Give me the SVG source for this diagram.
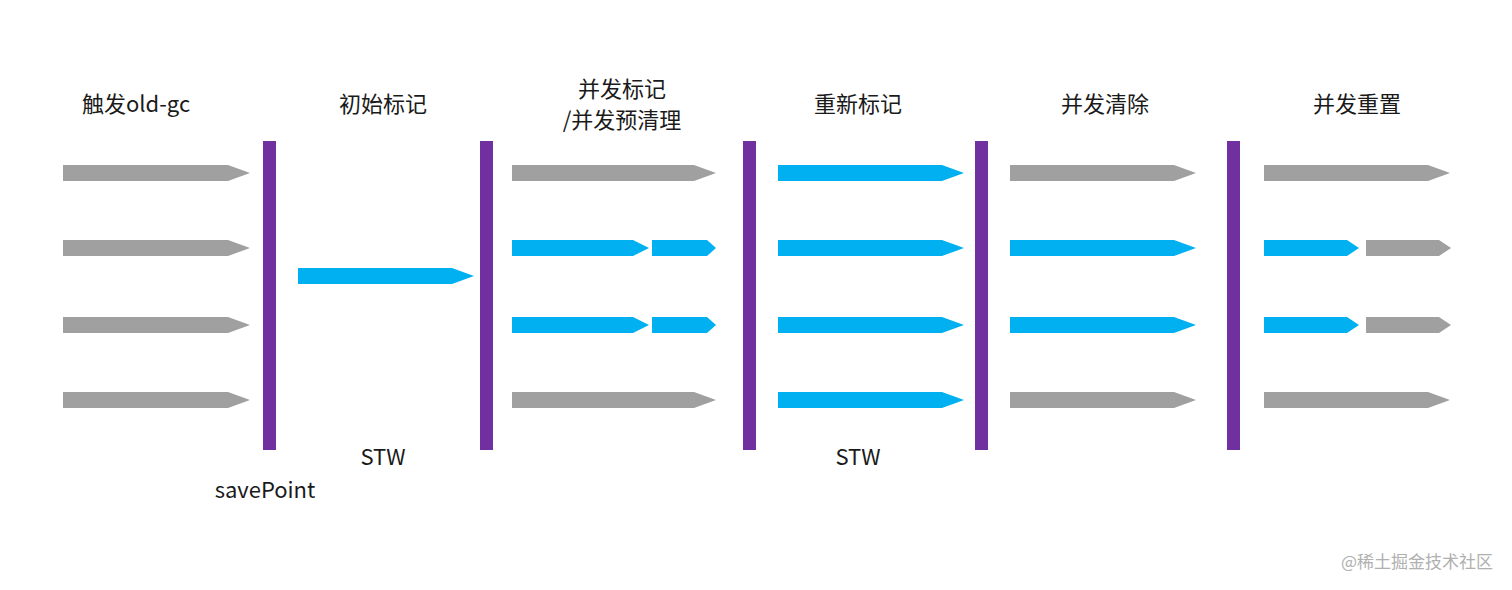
<svg xmlns="http://www.w3.org/2000/svg" width="1512" height="590" viewBox="0 0 1512 590">
<style>
.g{fill:#a0a0a0}
.b{fill:#00b0f0}
.bar{fill:#7030a0}
.t{font-family:"Noto Sans CJK SC","Microsoft YaHei",sans-serif;font-size:22px;fill:#1a1a1a}
.wm{font-family:"Noto Sans CJK SC",sans-serif;font-size:17px;fill:#b0b0b0}
</style>
<rect width="1512" height="590" fill="#ffffff"/>
<g id="bars">
<rect class="bar" x="263" y="141" width="13" height="309"/>
<rect class="bar" x="480" y="141" width="13" height="309"/>
<rect class="bar" x="743" y="141" width="13" height="309"/>
<rect class="bar" x="975" y="141" width="13" height="309"/>
<rect class="bar" x="1227" y="141" width="13" height="309"/>
</g>
<g id="connectors">
<!-- section 1 -->
<polygon class="g" points="63,165 228,165 250,173 228,181 63,181"/>
<polygon class="g" points="63,240 228,240 250,248 228,256 63,256"/>
<polygon class="g" points="63,317 228,317 250,325 228,333 63,333"/>
<polygon class="g" points="63,392 228,392 250,400 228,408 63,408"/>
<!-- section 2 -->
<polygon class="b" points="298,268 452,268 474,276 452,284 298,284"/>
<!-- section 3 -->
<polygon class="g" points="512,165 694,165 716,173 694,181 512,181"/>
<polygon class="b" points="512,240 633,240 649,248 633,256 512,256"/>
<polygon class="b" points="652,240 707,240 716,248 707,256 652,256"/>
<polygon class="b" points="512,317 633,317 649,325 633,333 512,333"/>
<polygon class="b" points="652,317 707,317 716,325 707,333 652,333"/>
<polygon class="g" points="512,392 694,392 716,400 694,408 512,408"/>
<!-- section 4 -->
<polygon class="b" points="778,165 942,165 964,173 942,181 778,181"/>
<polygon class="b" points="778,240 942,240 964,248 942,256 778,256"/>
<polygon class="b" points="778,317 942,317 964,325 942,333 778,333"/>
<polygon class="b" points="778,392 942,392 964,400 942,408 778,408"/>
<!-- section 5 -->
<polygon class="g" points="1010,165 1174,165 1196,173 1174,181 1010,181"/>
<polygon class="b" points="1010,240 1174,240 1196,248 1174,256 1010,256"/>
<polygon class="b" points="1010,317 1174,317 1196,325 1174,333 1010,333"/>
<polygon class="g" points="1010,392 1174,392 1196,400 1174,408 1010,408"/>
<!-- section 6 -->
<polygon class="g" points="1264,165 1428,165 1450,173 1428,181 1264,181"/>
<polygon class="b" points="1264,240 1347,240 1359,248 1347,256 1264,256"/>
<polygon class="g" points="1366,240 1439,240 1451,248 1439,256 1366,256"/>
<polygon class="b" points="1264,317 1347,317 1359,325 1347,333 1264,333"/>
<polygon class="g" points="1366,317 1439,317 1451,325 1439,333 1366,333"/>
<polygon class="g" points="1264,392 1428,392 1450,400 1428,408 1264,408"/>
</g>
<g id="labels">
<text class="t" x="82" y="112">触发old-gc</text>
<text class="t" x="383" y="112" text-anchor="middle">初始标记</text>
<text class="t" x="622" y="97" text-anchor="middle">并发标记</text>
<text class="t" x="622" y="128" text-anchor="middle">/并发预清理</text>
<text class="t" x="858" y="112" text-anchor="middle">重新标记</text>
<text class="t" x="1105" y="112" text-anchor="middle">并发清除</text>
<text class="t" x="1357" y="112" text-anchor="middle">并发重置</text>
<text class="t" x="383" y="465" text-anchor="middle">STW</text>
<text class="t" x="858" y="465" text-anchor="middle">STW</text>
<text class="t" x="265" y="498" text-anchor="middle">savePoint</text>
<text class="wm" x="1493" y="568" text-anchor="end">@稀土掘金技术社区</text>
</g>
</svg>
